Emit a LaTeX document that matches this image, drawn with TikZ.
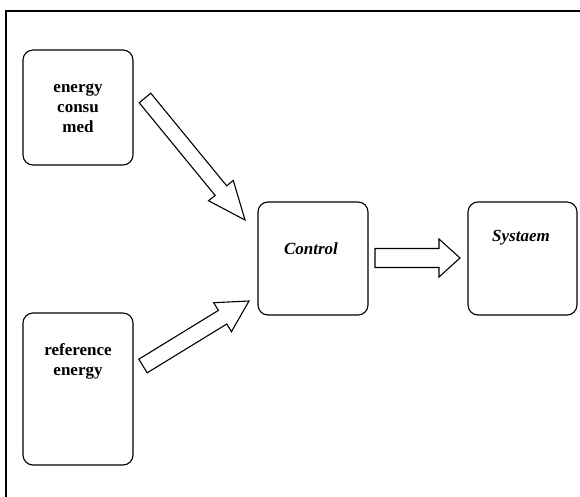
\documentclass[tikz,border=0pt]{standalone}
\usepackage{fontspec}
\setmainfont{Liberation Serif}
\usetikzlibrary{calc}
\tikzset{
    boxnode/.style = {rectangle, rounded corners=10pt, line width=1.1pt, draw=black, minimum width=110pt, inner sep=0},
    txtnode/.style = {align=center, inner sep=0, font=\fontsize{17}{20}\selectfont\bfseries, text=black},
    txtnodei/.style = {txtnode, font=\fontsize{17}{20}\selectfont\bfseries\itshape},
    fatarrow/.style = {line width=1.1pt, draw=black, fill=white, line join=miter},
    framen/.style = {line width=1.5pt, draw=black}
}
% block arrow: tail, tip, half shaft, half head, head length
\newcommand{\blockarrow}[5]{%
  \coordinate (#2b) at ($(#2)!#5!(#1)$);
  \draw[fatarrow] ($(#1)!#3!90:(#2)$) -- ($(#2b)!#3!-90:(#1)$) -- ($(#2b)!#4!-90:(#1)$) -- (#2)
    -- ($(#2b)!#4!90:(#1)$) -- ($(#2b)!#3!90:(#1)$) -- ($(#1)!#3!-90:(#2)$) -- cycle;
}
\begin{document}
\begin{tikzpicture}[x=1pt,y=-1pt]
\useasboundingbox (0,0) rectangle (580,497);
\clip (0,0) rectangle (580,497);
\draw[framen] (6,11) rectangle (620,540);

\node[boxnode, minimum height=115pt] at ( 78.0, 107.5) (consumed) {};
\node[boxnode, minimum height=152pt] at ( 78.0, 389.0) (reference) {};
\node[boxnode, minimum height=113pt] at (313.0, 258.5) (control) {};
\node[boxnode, minimum height=113pt, minimum width=109pt] at (522.5, 258.5) (system) {};

\node[txtnode] at ( 78, 108) (consumedtxt) {energy\\consu\\med};
\node[txtnode] at ( 78, 361) (referencetxt) {reference\\energy};
\node[txtnodei] at (311, 249) (controltxt) {Control};
\node[txtnodei] at (521, 238) (systemtxt) {Systaem};

\coordinate (a1t) at (145, 98);
\coordinate (a1h) at (245,220);
\coordinate (a2t) at (143,366);
\coordinate (a2h) at (249,301);
\coordinate (a3t) at (375,258);
\coordinate (a3h) at (460,258);

\blockarrow{a1t}{a1h}{7.5pt}{16pt}{38pt}
\blockarrow{a2t}{a2h}{8pt}{17pt}{31pt}
\blockarrow{a3t}{a3h}{9.5pt}{19pt}{21pt}

\end{tikzpicture}
\end{document}
